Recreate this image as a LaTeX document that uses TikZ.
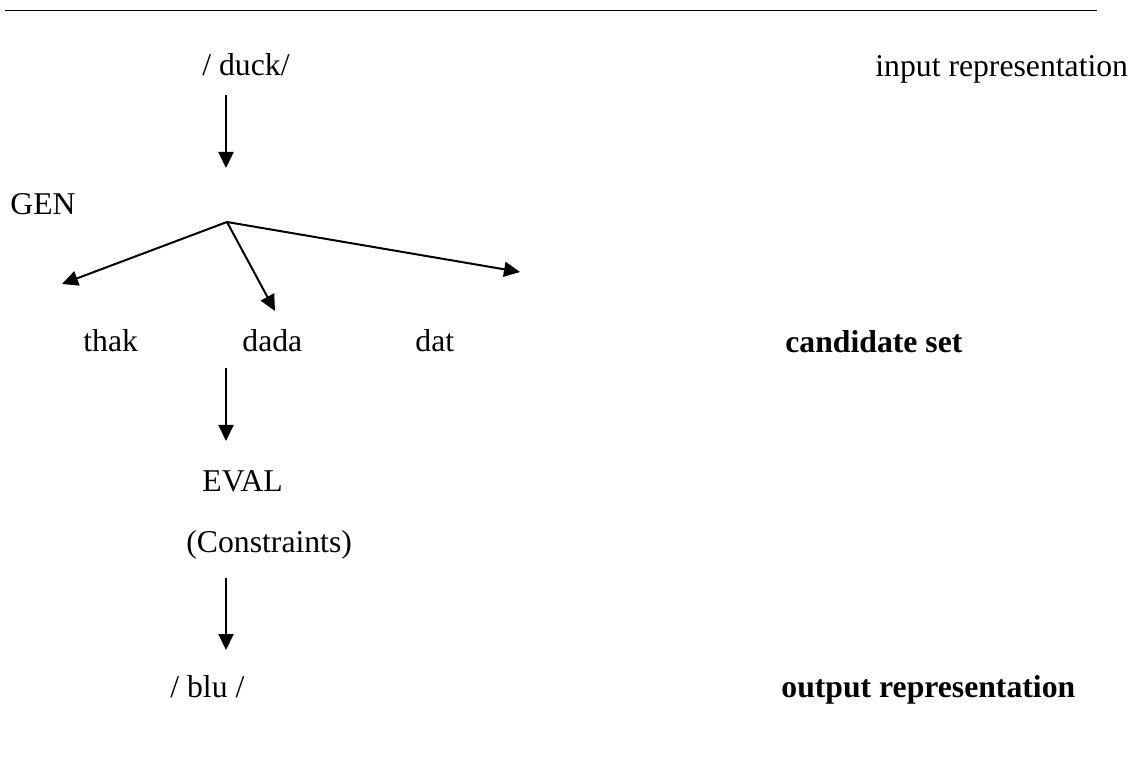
\documentclass[tikz,border=0pt]{standalone}
\usepackage{fontspec}
\setmainfont{Liberation Serif}
\usetikzlibrary{arrows.meta}
\begin{document}
\begin{tikzpicture}[x=0.5pt,y=-0.5pt,
  lbl/.style={anchor=base west,inner sep=0pt,font=\fontsize{15.85}{19}\selectfont},
  bold lbl/.style={lbl,font=\fontsize{15.85}{19}\selectfont\bfseries},
  flow/.style={line width=1pt,-{Triangle[length=8pt,width=7.5pt]}}]
\useasboundingbox (0,0) rectangle (1135,764);

% rule across the top
\coordinate (ruleL) at (5,10.5);
\coordinate (ruleR) at (1097,10.5);
\draw[line width=0.9pt] (ruleL) -- (ruleR);

% labels
\node[lbl] (duck) at (202,76) {/ duck/};
\node[lbl] (input) at (875,77) {input representation};
\node[lbl] (gen) at (10,215) {GEN};
\node[lbl] (thak) at (83,352) {thak};
\node[lbl] (dada) at (242,352) {dada};
\node[lbl] (dat) at (415,352) {dat};
\node[bold lbl] (cand) at (785,353) {candidate set};
\node[lbl] (eval) at (202,491) {EVAL};
\node[lbl] (cons) at (186,552) {(Constraints)};
\node[lbl] (blu) at (170,697) {/ blu /};
\node[bold lbl] (output) at (781,697) {output representation};

% arrow end points
\coordinate (a1s) at (226,95);
\coordinate (a1e) at (226,168);
\coordinate (branch) at (227,222);
\coordinate (tipL) at (62,284);
\coordinate (tipM) at (275,311);
\coordinate (tipR) at (520,272);
\coordinate (a3s) at (226,368);
\coordinate (a3e) at (226,441);
\coordinate (a4s) at (226,578);
\coordinate (a4e) at (226,650);

\draw[flow] (a1s) -- (a1e);
\draw[flow] (branch) -- (tipL);
\draw[flow] (branch) -- (tipM);
\draw[flow] (branch) -- (tipR);
\draw[flow] (a3s) -- (a3e);
\draw[flow] (a4s) -- (a4e);
\end{tikzpicture}
\end{document}
